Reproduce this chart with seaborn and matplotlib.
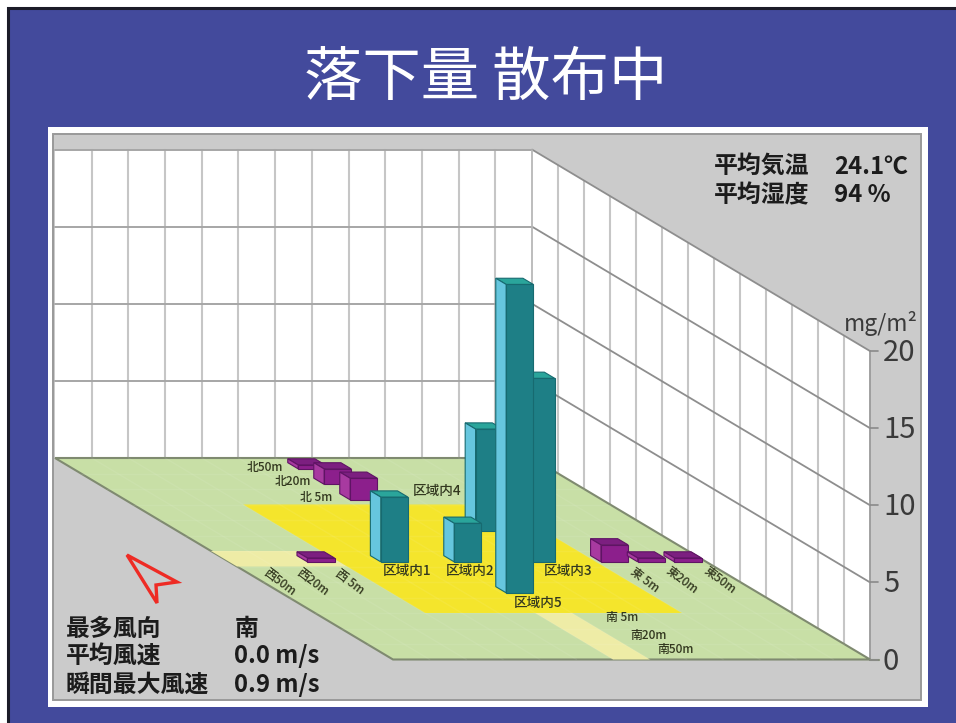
import matplotlib
matplotlib.use('Agg')
import matplotlib.pyplot as plt
from matplotlib.patches import Polygon, Rectangle
import seaborn as sns

# amounts in mg/m2
area_names = ['区域内1', '区域内2', '区域内3', '区域内4', '区域内5']
area_values = [4.2, 2.5, 11.9, 6.6, 20.0]
north_names = ['北50m', '北20m', '北 5m']
north_values = [0.25, 1.0, 1.4]
east_names = ['東 5m', '東20m', '東50m']
east_values = [1.1, 0.25, 0.25]
west_names = ['西 5m', '西20m', '西50m']
west_values = [0.25, 0.0, 0.0]
south_names = ['南 5m', '南20m', '南50m']
south_values = [0.0, 0.0, 0.0]
z_ticks = [0, 5, 10, 15, 20]

# floor cell of every site (column, row) on the 13 x 13 grid
cells = {'区域内1': (4.5, 6.5), '区域内2': (6.5, 6.5), '区域内3': (8.5, 6.5),
         '区域内4': (8.5, 4.5), '区域内5': (6.5, 8.5),
         '北50m': (6.5, 0.5), '北20m': (6.5, 1.5), '北 5m': (6.5, 2.5),
         '東 5m': (10.5, 6.5), '東20m': (11.5, 6.5), '東50m': (12.5, 6.5),
         '西 5m': (2.5, 6.5), '西20m': (1.5, 6.5), '西50m': (0.5, 6.5),
         '南 5m': (6.5, 10.5), '南20m': (6.5, 11.5), '南50m': (6.5, 12.5)}

# where the labels sit, in image pixels, with rotation
label_pos = {'区域内1': (407, 571, 0), '区域内2': (470, 571, 0), '区域内3': (568, 571, 0),
             '区域内4': (437, 491, 0), '区域内5': (538, 603, 0),
             '北50m': (265, 467, 0), '北20m': (293, 482, 0), '北 5m': (316, 498, 0),
             '東 5m': (645, 580, -37), '東20m': (682, 580, -37), '東50m': (720, 580, -37),
             '西 5m': (350, 582, -37), '西20m': (313, 582, -37), '西50m': (280, 582, -37),
             '南 5m': (622, 618, 0), '南20m': (648, 635, 0), '南50m': (675, 649, 0)}

N = 13
X0, Y0 = 55, 458      # back left corner of the floor
DU, DVX, DVY = 36.7, 26.0, 15.5   # one cell across, one cell towards the viewer
DZ = 15.42            # pixels per mg/m2
BAR_W, BAR_D = 0.74, 0.4

GRAY = '#cbcbcb'
BLUE = '#434a9c'


def project(u, v, z=0):
    return X0 + DU * u + DVX * v, Y0 + DVY * v - DZ * z


def face(ax, pts, **kw):
    ax.add_patch(Polygon([project(*p) for p in pts], closed=True, **kw))


def draw_bar(ax, name, value, front, side, top, line, zorder):
    cu, cv = cells[name]
    u0, u1 = cu - BAR_W / 2, cu + BAR_W / 2
    v0, v1 = cv - BAR_D / 2, cv + BAR_D / 2
    edge = dict(edgecolor=line, linewidth=0.8, zorder=zorder)
    face(ax, [(u0, v0, value), (u1, v0, value), (u1, v1, value), (u0, v1, value)], facecolor=top, **edge)
    face(ax, [(u0, v0, 0), (u0, v1, 0), (u0, v1, value), (u0, v0, value)], facecolor=side, **edge)
    fx0, fy0 = project(u0, v1)
    fx1, _ = project(u1, v1)
    # front face goes through seaborn, image y runs downward so the height is negative
    sns.barplot(x=[(fx0 + fx1) / 2], y=[-DZ * value], bottom=fy0, width=fx1 - fx0,
                native_scale=True, color=front, saturation=1, errorbar=None,
                edgecolor=line, linewidth=0.8, zorder=zorder, ax=ax)


def main():
    sns.set_theme(style='white')
    plt.rcParams['font.family'] = ['Noto Sans CJK JP', 'DejaVu Sans']

    fig = plt.figure(figsize=(9.56, 7.23), dpi=100, facecolor='white')
    ax = fig.add_axes([0, 0, 1, 1])
    ax.axis('off')

    # slide background, runs off the right and bottom of the image
    ax.add_patch(Rectangle((8, 8), 970, 740, facecolor=BLUE, edgecolor='#1c1c28', linewidth=2.2, zorder=0))
    ax.add_patch(Rectangle((48, 127), 880, 580, facecolor='white', edgecolor='none', zorder=0.5))
    ax.add_patch(Rectangle((53, 134), 868, 566, facecolor=GRAY, edgecolor='#999999', linewidth=1.4, zorder=1))

    # walls
    face(ax, [(0, 0, 0), (N, 0, 0), (N, 0, 20), (0, 0, 20)], facecolor='white', edgecolor='none', zorder=1.1)
    face(ax, [(N, 0, 0), (N, N, 0), (N, N, 20), (N, 0, 20)], facecolor='white', edgecolor='none', zorder=1.1)
    wall = dict(color='#c6c6c6', linewidth=1.5, zorder=1.2)
    for i in range(1, N):
        x, y0 = project(i, 0, 0)
        _, y1 = project(i, 0, 20)
        ax.plot([x, x], [y0, y1], **wall)
        x, y0 = project(N, i, 0)
        _, y1 = project(N, i, 20)
        ax.plot([x, x], [y0, y1], **wall)
    for z in z_ticks[1:]:
        back = [project(0, 0, z), project(N, 0, z)]
        side = [project(N, 0, z), project(N, N, z)]
        ax.plot([p[0] for p in back], [p[1] for p in back], color='#a6a6a6', linewidth=1.4, zorder=1.25)
        ax.plot([p[0] for p in side], [p[1] for p in side], color='#8e8e8e', linewidth=1.3, zorder=1.25)
    x, y0 = project(N, N, 0)
    _, y1 = project(N, N, 20)
    ax.plot([x, x], [y0, y1], color='#9a9a9a', linewidth=1.3, zorder=1.3)
    x, y0 = project(N, 0, 0)
    _, y1 = project(N, 0, 20)
    ax.plot([x, x], [y0, y1], color='#b8b8b8', linewidth=1.3, zorder=1.3)

    # floor
    face(ax, [(0, 0), (N, 0), (N, N), (0, N)], facecolor='#c8dfa6', edgecolor='#7f8a70', linewidth=1.5, zorder=2)
    face(ax, [(0, 6), (3, 6), (3, 7), (0, 7)], facecolor='#eeeca6', edgecolor='none', zorder=2.1)
    face(ax, [(6, 10), (7, 10), (7, N), (6, N)], facecolor='#eeeca6', edgecolor='none', zorder=2.1)
    face(ax, [(3, 3), (10, 3), (10, 10), (3, 10)], facecolor='#f4e52c', edgecolor='none', zorder=2.2)
    for i in range(1, N):
        a, b = project(i, 0), project(i, N)
        ax.plot([a[0], b[0]], [a[1], b[1]], color='white', alpha=0.07, linewidth=1, zorder=2.3)
        a, b = project(0, i), project(N, i)
        ax.plot([a[0], b[0]], [a[1], b[1]], color='white', alpha=0.07, linewidth=1, zorder=2.3)
    fx, fy = project(N, N)
    ax.plot([fx, fx + 9], [fy, fy], color='#7f8a70', linewidth=1.5, zorder=2.4)

    # bars, painted back to front
    teal = ('#1e7f86', '#66c6de', '#2aa59b', '#176a70')
    purple = ('#8c1f8c', '#a83aa0', '#7c1f80', '#5f1464')
    sites = []
    for names, values, colours in [
        (area_names, area_values, teal),
        (north_names, north_values, purple),
        (east_names, east_values, purple),
        (west_names, west_values, purple),
    ]:
        for name, value in zip(names, values):
            if value > 0:
                sites.append((cells[name][1], name, value, colours))
    sites.sort(key=lambda s: s[0])
    for i, (_, name, value, colours) in enumerate(sites):
        draw_bar(ax, name, value, *colours, 3 + i * 0.1)

    # site labels
    for names in [area_names, north_names, east_names, west_names, south_names]:
        size = 9.8 if names is area_names else 8.6
        for name in names:
            x, y, rot = label_pos[name]
            ax.text(x, y, name, fontsize=size, fontweight='medium', color='#33381f', rotation=rot,
                    ha='center', va='center', rotation_mode='anchor', zorder=6)

    # height axis
    for z in z_ticks:
        x, y = project(N, N, z)
        ax.plot([x, x + 8], [y, y], color='#8a8a8a', linewidth=1.2, zorder=2.5)
        ax.text(883, y + 2, str(z), fontsize=21, color='#3a3a3a', ha='left', va='center', zorder=6)
    ax.text(918, 323, 'mg/m²', fontsize=16.5, color='#3a3a3a', ha='right', va='center', zorder=6)

    # title and weather notes
    ax.text(486, 78, '落下量 散布中', fontsize=42, color='white', ha='center', va='center', zorder=6)
    notes = dict(fontsize=17.2, fontweight='bold', color='#1c1c1c', va='center', zorder=6)
    ax.text(714, 167, '平均気温', **notes)
    ax.text(834, 167, '24.1℃', **notes)
    ax.text(714, 195, '平均湿度', **notes)
    ax.text(834, 195, '94 %', **notes)
    ax.text(66, 629, '最多風向', **notes)
    ax.text(235, 629, '南', **notes)
    ax.text(66, 656, '平均風速', **notes)
    ax.text(234, 656, '0.0 m/s', **notes)
    ax.text(66, 685, '瞬間最大風速', **notes)
    ax.text(234, 685, '0.9 m/s', **notes)

    # wind arrow
    ax.add_patch(Polygon([(127, 555), (177, 582), (156, 585), (157, 603)], closed=True,
                         facecolor='none', edgecolor='#ee2b24', linewidth=2.4, joinstyle='miter', zorder=6))

    ax.set_xlim(0, 956)
    ax.set_ylim(723, 0)
    fig.savefig('out.png', dpi=100, facecolor='white')


if __name__ == '__main__':
    main()
